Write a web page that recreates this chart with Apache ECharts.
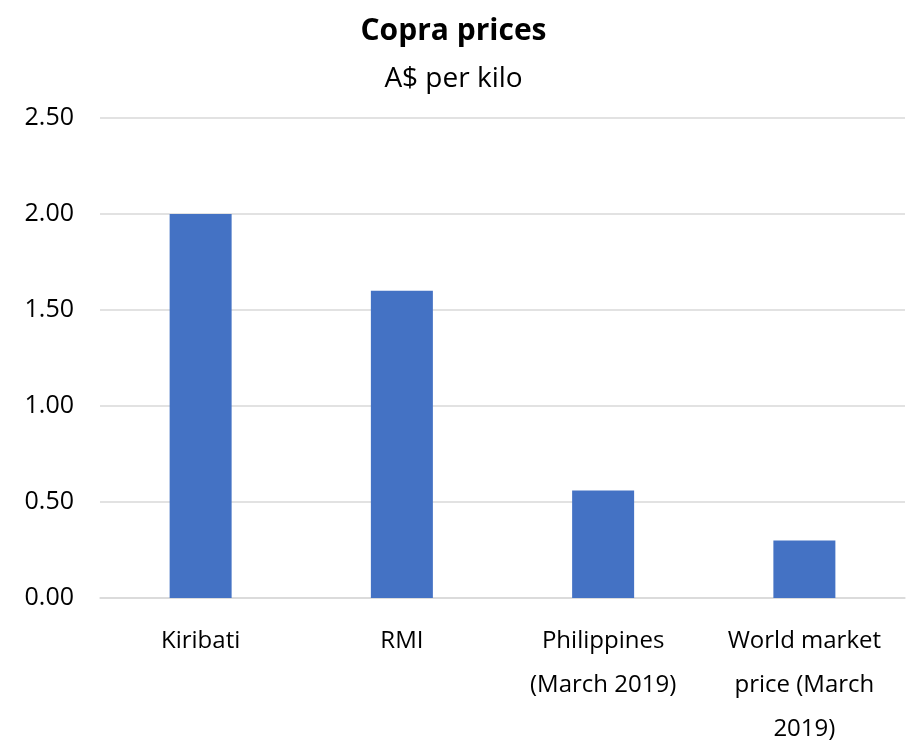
<!DOCTYPE html>
<html>
<head>
<meta charset="utf-8">
<script src="https://cdn.jsdelivr.net/npm/echarts@6/dist/echarts.min.js"></script>
<style>
  html, body { margin: 0; padding: 0; background: #fff; }
  #chart { width: 907px; height: 741px; }
</style>
</head>
<body>
<div id="chart"></div>
<script>
// Copra prices, A$ per kilo
const categories = ['Kiribati', 'RMI', 'Philippines\n(March 2019)', 'World market\nprice (March\n2019)'];
const prices = [2.00, 1.60, 0.56, 0.30];
const yTicks = { min: 0, max: 2.5, interval: 0.5 };

const FONT = '"Open Sans", "Noto Sans", sans-serif';
const chart = echarts.init(document.getElementById('chart'), null, { renderer: 'canvas' });

chart.setOption({
  backgroundColor: '#ffffff',
  animation: false,
  title: [{
    text: 'Copra prices',
    left: 'center',
    top: 11,
    textStyle: { fontFamily: FONT, fontSize: 30, fontWeight: 'bold', color: '#000' }
  }, {
    text: 'A$ per kilo',
    left: 'center',
    top: 60,
    textStyle: { fontFamily: FONT, fontSize: 28, fontWeight: 'normal', color: '#000' }
  }],
  grid: { left: 100, right: 2, top: 118, bottom: 143, outerBoundsMode: 'none', containLabel: false },
  xAxis: {
    type: 'category',
    data: categories,
    axisLine: { lineStyle: { color: '#d9d9d9', width: 1.5 } },
    axisTick: { show: false },
    axisLabel: {
      interval: 0,
      margin: 21,
      fontFamily: FONT,
      fontSize: 24,
      lineHeight: 44,
      color: '#000'
    }
  },
  yAxis: {
    type: 'value',
    min: yTicks.min,
    max: yTicks.max,
    interval: yTicks.interval,
    axisLine: { show: false },
    axisTick: { show: false },
    splitLine: { lineStyle: { color: '#d9d9d9', width: 1.5 } },
    axisLabel: {
      margin: 26,
      fontFamily: FONT,
      fontSize: 25,
      color: '#000',
      formatter: v => v.toFixed(2)
    }
  },
  series: [{
    type: 'bar',
    data: prices,
    barWidth: 62,
    itemStyle: { color: '#4472c4' }
  }]
});
</script>
</body>
</html>
